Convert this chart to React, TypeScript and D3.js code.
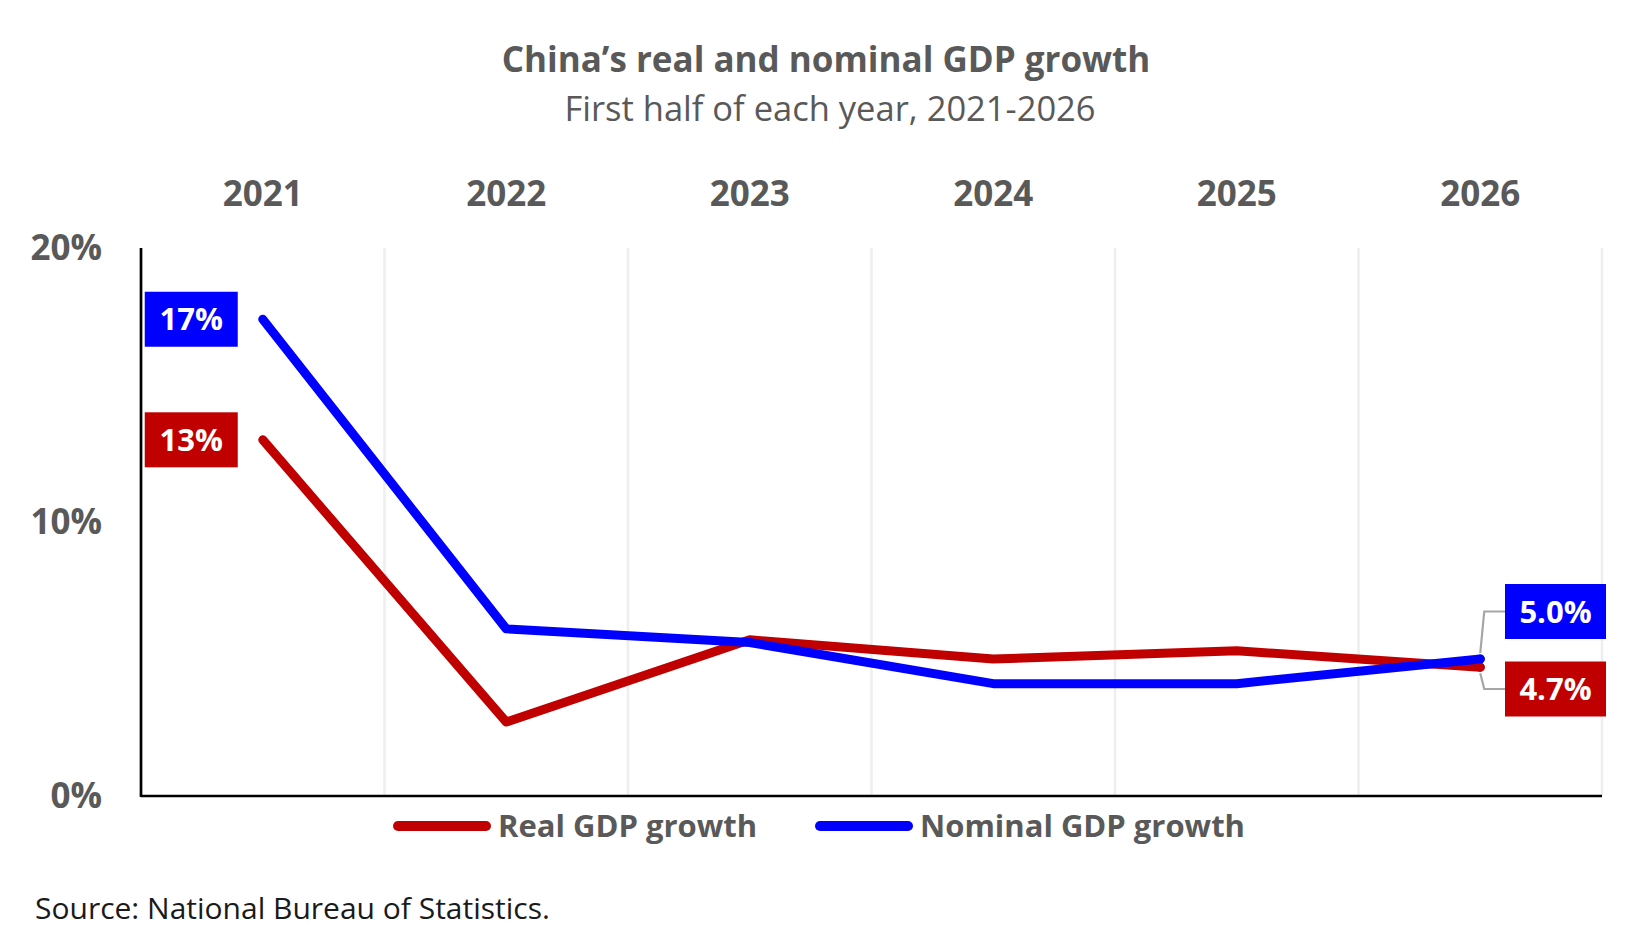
import React from "react";
import * as d3 from "d3";

const years = ["2021", "2022", "2023", "2024", "2025", "2026"];
const realGrowth = [13.0, 2.7, 5.7, 5.0, 5.3, 4.7];
const nominalGrowth = [17.4, 6.1, 5.6, 4.1, 4.1, 5.0];
const yTicks = [0, 10, 20];
const seriesNames = ["Real GDP growth", "Nominal GDP growth"];
const seriesColors = ["#C00000", "#0000FF"];

const W = 1652;
const H = 936;
const FONT = "'Open Sans', 'Noto Sans', sans-serif";
const GREY = "#595959";

export default function App() {
  const left = 141;
  const right = 1602;
  const top = 248;
  const bottom = 796;

  const x = d3.scaleBand<string>().domain(years).range([left, right]).padding(0);
  const y = d3.scaleLinear().domain([0, 20]).range([bottom, top]);
  const cx = (yr: string) => (x(yr) as number) + x.bandwidth() / 2;

  const line = d3
    .line<number>()
    .x((_, i) => cx(years[i]))
    .y((d) => y(d));

  const series = [realGrowth, nominalGrowth];
  const fmt0 = d3.format(".0f");
  const fmt1 = d3.format(".1f");

  const first = years[0];
  const last = years[years.length - 1];
  const firstX = cx(first);
  const lastX = cx(last);

  const endBoxCY = [689, 611.5];

  return (
    <svg width={W} height={H} style={{ display: "block", position: "absolute", left: 0, top: 0, background: "#fff" }} fontFamily={FONT}>
      <rect width={W} height={H} fill="#fff" />
      {/* title */}
      <text x={826} y={72} textAnchor="middle" fontSize={35} fontWeight={700} fill={GREY}>
        China’s real and nominal GDP growth
      </text>
      <text x={830} y={121} textAnchor="middle" fontSize={34.5} fill={GREY}>
        First half of each year, 2021-2026
      </text>

      {/* year labels on top */}
      {years.map((yr) => (
        <text key={yr} x={cx(yr)} y={206} textAnchor="middle" fontSize={35} fontWeight={700} fill={GREY}>
          {yr}
        </text>
      ))}

      {/* gridlines */}
      {years.map((yr) => (
        <line
          key={"g" + yr}
          x1={(x(yr) as number) + x.bandwidth()}
          x2={(x(yr) as number) + x.bandwidth()}
          y1={top}
          y2={bottom}
          stroke="#EEEEEE"
          strokeWidth={2.5}
        />
      ))}

      {/* y ticks */}
      {yTicks.map((t) => (
        <text key={"t" + t} x={102} y={y(t)} dy="0.35em" textAnchor="end" fontSize={35} fontWeight={700} fill={GREY}>
          {t}%
        </text>
      ))}

      {/* axes */}
      <line x1={left} x2={left} y1={top} y2={bottom + 1} stroke="#000" strokeWidth={2.7} />
      <line x1={left} x2={right} y1={bottom} y2={bottom} stroke="#000" strokeWidth={2.7} />

      {/* lines */}
      {series.map((s, i) => (
        <path
          key={"l" + i}
          d={line(s) || ""}
          fill="none"
          stroke={seriesColors[i]}
          strokeWidth={9}
          strokeLinejoin="round"
          strokeLinecap="round"
        />
      ))}

      {/* start labels */}
      {series.map((s, i) => {
        const bw = 93;
        const bh = 55;
        const bx = firstX - 25 - bw;
        const by = y(s[0]) - bh / 2;
        return (
          <g key={"sl" + i}>
            <rect x={bx} y={by} width={bw} height={bh} fill={seriesColors[i]} />
            <text x={bx + bw / 2} y={by + bh / 2} dy="0.36em" textAnchor="middle" fontSize={31} fontWeight={700} fill="#fff">
              {fmt0(s[0])}%
            </text>
          </g>
        );
      })}

      {/* end labels with connectors */}
      {series.map((s, i) => {
        const v = s[s.length - 1];
        const bw = 101;
        const bh = 55;
        const bx = 1505;
        const bcy = endBoxCY[i];
        const py = y(v);
        const elbowX = lastX + 4;
        const startY = py + (bcy < py ? -6 : 6);
        return (
          <g key={"el" + i}>
            <polyline
              points={`${lastX},${startY} ${elbowX},${bcy} ${bx},${bcy}`}
              fill="none"
              stroke="#A6A6A6"
              strokeWidth={2.2}
            />
            <rect x={bx} y={bcy - bh / 2} width={bw} height={bh} fill={seriesColors[i]} />
            <text x={bx + bw / 2} y={bcy} dy="0.36em" textAnchor="middle" fontSize={31} fontWeight={700} fill="#fff">
              {fmt1(v)}%
            </text>
          </g>
        );
      })}
      {series.map((s, i) => (
        <circle key={"c" + i} cx={lastX} cy={y(s[s.length - 1])} r={4.5} fill={seriesColors[i]} />
      ))}

      {/* legend */}
      {seriesNames.map((name, i) => {
        const lx = [398, 820][i];
        return (
          <g key={"lg" + i}>
            <line x1={lx} x2={lx + 88} y1={826} y2={826} stroke={seriesColors[i]} strokeWidth={10} strokeLinecap="round" />
            <text x={lx + 100} y={826} dy="0.36em" fontSize={31} fontWeight={700} fill={GREY}>
              {name}
            </text>
          </g>
        );
      })}

      {/* source */}
      <text x={35} y={919} fontSize={30} fill="#1a1a1a">
        Source: National Bureau of Statistics.
      </text>
    </svg>
  );
}
